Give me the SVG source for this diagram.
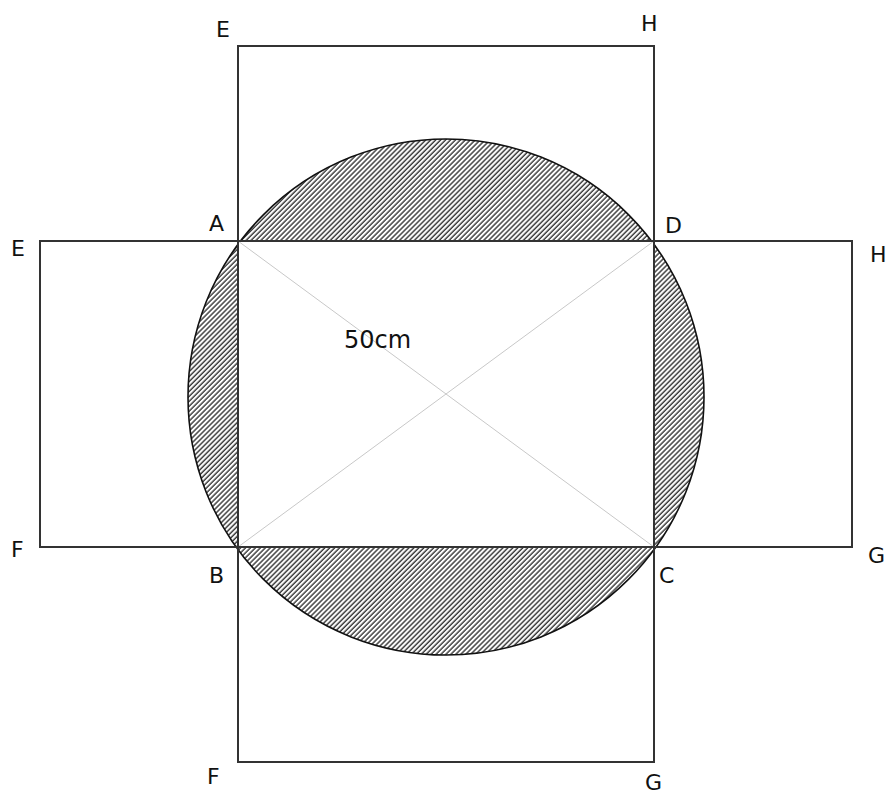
<svg xmlns="http://www.w3.org/2000/svg" width="888" height="794" viewBox="0 0 888 794">
  <style>
    .edge { fill: none; stroke: #333; stroke-width: 2; }
    .diag { stroke: #c8c8c8; stroke-width: 1; }
    .lbl { font-family: "DejaVu Sans", "Liberation Sans", sans-serif; font-size: 22px; fill: #111; }
  </style>
  <defs>
    <pattern id="hatch" patternUnits="userSpaceOnUse" width="3.5" height="10" patternTransform="rotate(45)">
      <line x1="1" y1="0" x2="1" y2="10" stroke="#111" stroke-width="1.2"/>
    </pattern>
  </defs>
  <rect width="888" height="794" fill="#fff"/>
  <g id="circle">
    <circle cx="446" cy="397" r="258" fill="url(#hatch)" stroke="#111" stroke-width="1.6"/>
  </g>
  <g id="rect-ABCD">
    <rect x="238" y="241" width="416" height="306" fill="#fff"/>
  </g>
  <g id="connectors">
    <line class="diag" x1="238" y1="241" x2="654" y2="547"/>
    <line class="diag" x1="654" y1="241" x2="238" y2="547"/>
  </g>
  <g id="rect-top"><rect class="edge" x="238" y="46" width="416" height="195"/></g>
  <g id="rect-bottom"><rect class="edge" x="238" y="547" width="416" height="215"/></g>
  <g id="rect-left"><rect class="edge" x="40" y="241" width="198" height="306"/></g>
  <g id="rect-right"><rect class="edge" x="654" y="241" width="198" height="306"/></g>
  <g id="labels">
    <text class="lbl" x="216" y="37">E</text>
    <text class="lbl" x="641" y="31">H</text>
    <text class="lbl" x="209" y="231">A</text>
    <text class="lbl" x="665" y="233">D</text>
    <text class="lbl" x="11" y="256">E</text>
    <text class="lbl" x="870" y="262">H</text>
    <text class="lbl" x="11" y="557">F</text>
    <text class="lbl" x="868" y="563">G</text>
    <text class="lbl" x="209" y="583">B</text>
    <text class="lbl" x="659" y="583">C</text>
    <text class="lbl" x="207" y="784">F</text>
    <text class="lbl" x="645" y="790">G</text>
    <text class="lbl" x="344" y="348" style="font-size:24px">50cm</text>
  </g>
</svg>
